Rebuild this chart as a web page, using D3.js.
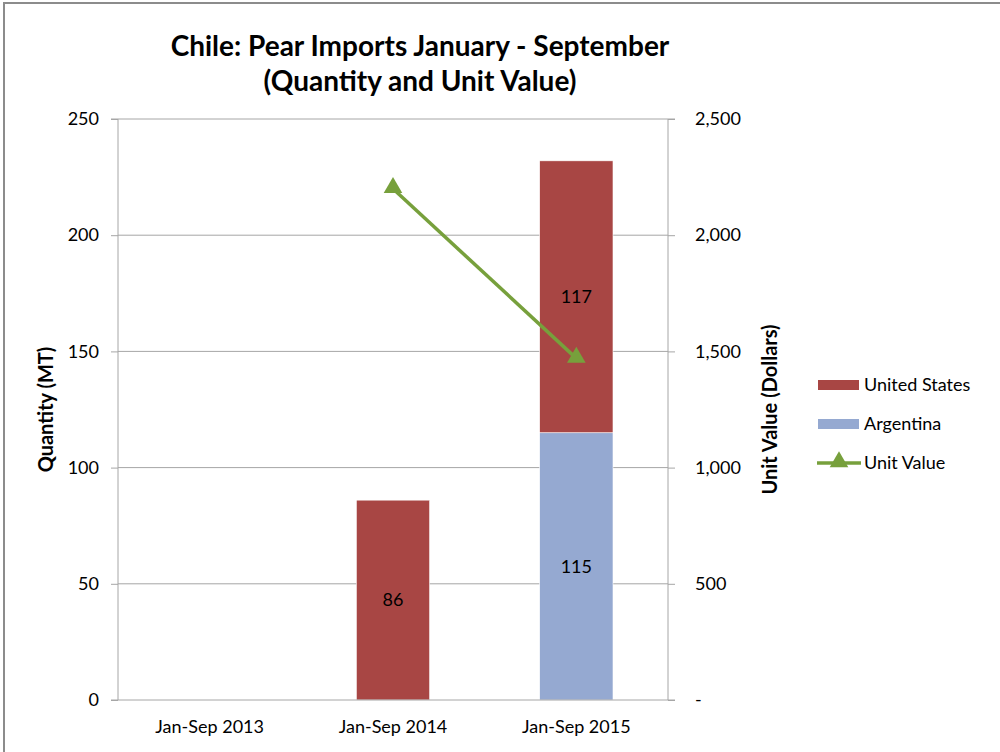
<!DOCTYPE html>
<html>
<head>
<meta charset="utf-8" />
<title>Chile: Pear Imports</title>
<style>
    body { margin: 0; background: #fff; }
    text { font-family: Lato, "Open Sans", sans-serif; fill: #000; }
</style>
</head>
<body>
<div id="chart"></div>
<script src="https://cdn.jsdelivr.net/npm/d3@7"></script>
<script>
    // data
    var categories = ["Jan-Sep 2013", "Jan-Sep 2014", "Jan-Sep 2015"];
    var argentina = [0, 0, 115];
    var unitedStates = [0, 86, 117];
    var unitValue = [null, 2200, 1470];
    var leftTicks = [0, 50, 100, 150, 200, 250];
    var rightTicks = [0, 500, 1000, 1500, 2000, 2500];

    var width = 1000, height = 752;
    var margin = { top: 119, left: 118, right: 332, bottom: 52 };
    var plotW = width - margin.left - margin.right;
    var plotH = height - margin.top - margin.bottom;

    var svg = d3.select("#chart").append("svg")
        .attr("width", width)
        .attr("height", height);

    // chart border (only top and left visible in the frame)
    svg.append("rect")
        .attr("x", 4).attr("y", 3)
        .attr("width", 1010).attr("height", 770)
        .attr("fill", "none")
        .attr("stroke", "#8c8c8c")
        .attr("stroke-width", 2);

    var x = d3.scaleBand()
        .domain(categories)
        .range([margin.left, margin.left + plotW])
        .paddingInner(0.6)
        .paddingOuter(0.3);
    var y = d3.scaleLinear().domain([0, 250]).range([margin.top + plotH, margin.top]);
    var y2 = d3.scaleLinear().domain([0, 2500]).range([margin.top + plotH, margin.top]);

    // gridlines
    svg.append("g")
        .selectAll("line")
        .data(leftTicks.slice(1))
        .join("line")
        .attr("x1", margin.left).attr("x2", margin.left + plotW)
        .attr("y1", d => y(d)).attr("y2", d => y(d))
        .attr("stroke", "#a6a6a6")
        .attr("stroke-width", 1);

    // stacked bars
    var series = [
        { name: "Argentina", values: argentina, color: "#95a9d1" },
        { name: "United States", values: unitedStates, color: "#a84644" }
    ];
    var stack = d3.stack().keys([0, 1]).value((d, k) => series[k].values[d]);
    var stacked = stack(d3.range(categories.length));

    var barG = svg.append("g");
    stacked.forEach(function (layer, k) {
        var segs = layer.map((d, i) => ({ i: i, y0: d[0], y1: d[1], v: series[k].values[i] })).filter(d => d.v > 0);
        barG.append("g")
            .selectAll("rect")
            .data(segs)
            .join("rect")
            .attr("x", d => x(categories[d.i]))
            .attr("width", x.bandwidth())
            .attr("y", d => y(d.y1))
            .attr("height", d => y(d.y0) - y(d.y1))
            .attr("fill", series[k].color)
            .attr("stroke", "#fff")
            .attr("stroke-width", 0.6);
        barG.append("g")
            .selectAll("text")
            .data(segs)
            .join("text")
            .attr("x", d => x(categories[d.i]) + x.bandwidth() / 2)
            .attr("y", d => (y(d.y0) + y(d.y1)) / 2)
            .attr("dy", "0.35em")
            .attr("text-anchor", "middle")
            .attr("font-size", 18)
            .text(d => d.v);
    });

    // axes
    var leftAxis = d3.axisLeft(y).tickValues(leftTicks).tickSize(7).tickPadding(12);
    svg.append("g")
        .attr("transform", `translate(${margin.left},0)`)
        .call(leftAxis)
        .call(g => g.select(".domain").attr("stroke", "#a6a6a6").attr("d", `M-7,${margin.top}H0V${margin.top + plotH}`))
        .call(g => g.selectAll(".tick line").attr("stroke", "#a6a6a6"))
        .call(g => g.selectAll(".tick text").attr("font-size", 18).attr("font-family", "Lato, sans-serif").attr("fill", "#000"));

    var rightAxis = d3.axisRight(y2).tickValues(rightTicks).tickSize(7).tickPadding(20)
        .tickFormat(d => d === 0 ? "-" : d3.format(",")(d));
    svg.append("g")
        .attr("transform", `translate(${margin.left + plotW},0)`)
        .call(rightAxis)
        .call(g => g.select(".domain").attr("stroke", "#a6a6a6").attr("d", `M7,${margin.top}H0V${margin.top + plotH}`))
        .call(g => g.selectAll(".tick line").attr("stroke", "#a6a6a6"))
        .call(g => g.selectAll(".tick text").attr("font-size", 18).attr("font-family", "Lato, sans-serif").attr("fill", "#000"));

    var bottomAxis = d3.axisBottom(x).tickSize(0).tickPadding(20);
    svg.append("g")
        .attr("transform", `translate(0,${margin.top + plotH})`)
        .call(bottomAxis)
        .call(g => g.select(".domain").attr("stroke", "#a6a6a6").attr("d", `M${margin.left - 7},0H${margin.left + plotW + 7}`))
        .call(g => g.selectAll(".tick text").attr("font-size", 18).attr("font-family", "Lato, sans-serif").attr("fill", "#000"));

    // unit value line
    var lineData = unitValue.map((v, i) => ({ i: i, v: v })).filter(d => d.v != null);
    var line = d3.line()
        .x(d => x(categories[d.i]) + x.bandwidth() / 2)
        .y(d => y2(d.v));
    svg.append("path")
        .datum(lineData)
        .attr("d", line)
        .attr("fill", "none")
        .attr("stroke", "#77a03c")
        .attr("stroke-width", 3.5);
    var tri = d3.symbol().type(d3.symbolTriangle).size(150);
    svg.append("g")
        .selectAll("path")
        .data(lineData)
        .join("path")
        .attr("transform", d => `translate(${x(categories[d.i]) + x.bandwidth() / 2},${y2(d.v) - 1})`)
        .attr("d", tri)
        .attr("fill", "#77a03c");

    // titles
    var title = svg.append("text")
        .attr("x", 420)
        .attr("text-anchor", "middle")
        .attr("font-size", 28)
        .attr("font-weight", "bold");
    title.append("tspan").attr("x", 420).attr("y", 56).text("Chile: Pear Imports January - September");
    title.append("tspan").attr("x", 420).attr("y", 91).text("(Quantity and Unit Value)");

    svg.append("text")
        .attr("transform", `translate(53,${margin.top + plotH / 2}) rotate(-90)`)
        .attr("text-anchor", "middle")
        .attr("font-size", 20)
        .attr("font-weight", "bold")
        .text("Quantity (MT)");
    svg.append("text")
        .attr("transform", `translate(777,${margin.top + plotH / 2}) rotate(-90)`)
        .attr("text-anchor", "middle")
        .attr("font-size", 20)
        .attr("font-weight", "bold")
        .text("Unit Value (Dollars)");

    // legend
    var legendItems = [
        { name: "United States", color: "#a84644", type: "bar" },
        { name: "Argentina", color: "#95a9d1", type: "bar" },
        { name: "Unit Value", color: "#77a03c", type: "line" }
    ];
    var legend = svg.append("g").attr("transform", "translate(818,385)");
    legendItems.forEach(function (d, i) {
        var g = legend.append("g").attr("transform", `translate(0,${i * 39})`);
        if (d.type === "bar") {
            g.append("rect").attr("x", 0).attr("y", -5).attr("width", 41).attr("height", 10).attr("fill", d.color);
        } else {
            g.append("line").attr("x1", -1).attr("x2", 43).attr("y1", 0).attr("y2", 0)
                .attr("stroke", d.color).attr("stroke-width", 3.5);
            g.append("path").attr("transform", "translate(21,-1)").attr("d", tri).attr("fill", d.color);
        }
        g.append("text").attr("x", 46).attr("y", 0).attr("dy", "0.35em")
            .attr("font-size", 18).text(d.name);
    });
</script>
</body>
</html>
